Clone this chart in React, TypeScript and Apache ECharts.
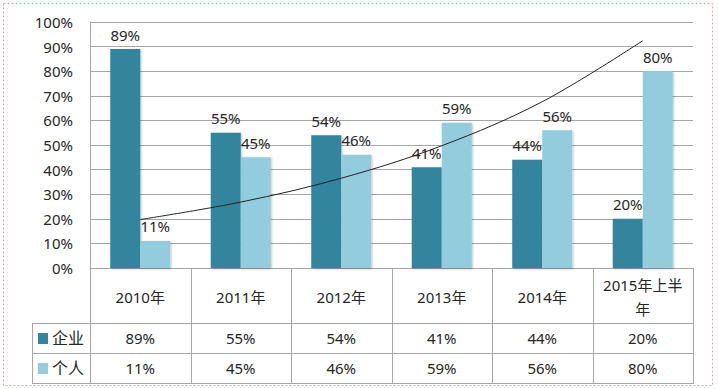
import React, { useEffect, useRef } from 'react';
import * as echarts from 'echarts';

const categories = ['2010年', '2011年', '2012年', '2013年', '2014年', '2015年上半年'];
const seriesNames = ['企业', '个人'];
const enterprise = [89, 55, 54, 41, 44, 20];
const personal = [11, 45, 46, 59, 56, 80];
// exponential trendline of 个人 at each category
const trendValues = [19.7, 26.8, 36.5, 49.7, 67.6, 92.4];

const COLORS = ['#31859C', '#93CDDD'];
const GRID_COLOR = '#A6A6A6';
const TEXT_COLOR = '#262626';
const FONT = '"Noto Sans", "Noto Sans CJK SC", sans-serif';

const wrapLabel = (s: string) => (s.length > 7 ? s.slice(0, 7) + '\n' + s.slice(7) : s);

export default function App() {
  const ref = useRef<HTMLDivElement>(null);

  useEffect(() => {
    if (!ref.current) return;
    const chart = echarts.init(ref.current, undefined, { renderer: 'svg' });
    const labelOpt = {
      show: true,
      position: 'top' as const,
      distance: 7,
      formatter: '{c}%',
      fontSize: 15,
      color: TEXT_COLOR,
      fontFamily: FONT,
    };
    chart.setOption({
      animation: false,
      textStyle: { fontFamily: FONT },
      grid: { left: 90, right: 25, top: 22, bottom: 121 },
      xAxis: {
        type: 'category',
        data: categories,
        axisLabel: { show: false },
        axisTick: { show: false },
        axisLine: { lineStyle: { color: GRID_COLOR, width: 1 } },
      },
      yAxis: {
        type: 'value',
        min: 0,
        max: 100,
        interval: 10,
        axisLabel: { formatter: '{value}%', fontSize: 15, color: TEXT_COLOR, margin: 17, fontFamily: FONT },
        axisLine: { show: true, lineStyle: { color: GRID_COLOR, width: 1 } },
        axisTick: { show: false },
        splitLine: { lineStyle: { color: GRID_COLOR, width: 1 } },
      },
      series: [
        {
          name: seriesNames[0],
          type: 'bar',
          data: enterprise,
          barWidth: 30,
          barGap: '0%',
          itemStyle: { color: COLORS[0], shadowBlur: 2, shadowColor: 'rgba(0,0,0,0.25)', shadowOffsetX: 1, shadowOffsetY: 1 },
          label: labelOpt,
        },
        {
          name: seriesNames[1],
          type: 'bar',
          data: personal,
          barWidth: 30,
          barGap: '0%',
          itemStyle: { color: COLORS[1], shadowBlur: 2, shadowColor: 'rgba(0,0,0,0.25)', shadowOffsetX: 1, shadowOffsetY: 1 },
          label: labelOpt,
        },
        {
          name: 'trend',
          type: 'line',
          data: trendValues,
          smooth: 0.35,
          showSymbol: false,
          symbol: 'none',
          silent: true,
          z: 5,
          lineStyle: { color: '#222222', width: 1 },
        },
      ],
    });

    // data table below the plot
    const c0 = chart.convertToPixel({ xAxisIndex: 0 }, 0) as number;
    const c1 = chart.convertToPixel({ xAxisIndex: 0 }, 1) as number;
    const band = c1 - c0;
    const yBase = Math.round(chart.convertToPixel({ yAxisIndex: 0 }, 0) as number);
    const headerH = 55;
    const rowH = 30;
    const legendLeft = 32;
    const y1 = yBase + headerH;
    const y2 = y1 + rowH;
    const y3 = y2 + rowH;
    const rightX = Math.round(c0 + band * (categories.length - 0.5));
    const p = (v: number) => Math.round(v) + 0.5;
    const lineStyle = { stroke: GRID_COLOR, lineWidth: 1 };
    const els: any[] = [];
    // horizontal lines
    [y1, y2, y3].forEach((y) =>
      els.push({ type: 'line', shape: { x1: legendLeft, y1: p(y), x2: rightX + 1, y2: p(y) }, style: lineStyle })
    );
    // vertical lines
    els.push({ type: 'line', shape: { x1: p(legendLeft), y1: y1, x2: p(legendLeft), y2: y3 + 1 }, style: lineStyle });
    for (let i = 0; i <= categories.length; i++) {
      const x = p(c0 + band * (i - 0.5));
      els.push({ type: 'line', shape: { x1: x, y1: yBase, x2: x, y2: y3 + 1 }, style: lineStyle });
    }
    const textStyle = (x: number, y: number, text: string, size = 15) => ({
      type: 'text',
      x,
      y,
      style: {
        text,
        fontSize: size,
        fontFamily: FONT,
        fill: TEXT_COLOR,
        align: 'center',
        verticalAlign: 'middle',
        lineHeight: 24,
      },
    });
    categories.forEach((cat, i) => {
      const cx = c0 + band * i;
      els.push(textStyle(cx, yBase + headerH / 2 + 1, wrapLabel(cat)));
      els.push(textStyle(cx, y1 + rowH / 2, enterprise[i] + '%'));
      els.push(textStyle(cx, y2 + rowH / 2, personal[i] + '%'));
    });
    // legend keys in the table
    [y1, y2].forEach((y, k) => {
      els.push({ type: 'rect', shape: { x: legendLeft + 6, y: y + rowH / 2 - 5, width: 10, height: 11 }, style: { fill: COLORS[k] } });
      els.push({
        type: 'text',
        x: legendLeft + 20,
        y: y + rowH / 2,
        style: { text: seriesNames[k], fontSize: 16, fontFamily: FONT, fill: TEXT_COLOR, align: 'left', verticalAlign: 'middle' },
      });
    });
    // outer dotted border
    els.push({
      type: 'rect',
      shape: { x: 3.5, y: 3.5, width: 709, height: 382 },
      style: { fill: 'none', stroke: '#E8A0A0', lineWidth: 1, lineDash: [2, 2] },
      z: -1,
    });
    chart.setOption({ graphic: { elements: els } });

    return () => chart.dispose();
  }, []);

  return <div ref={ref} style={{ position: 'fixed', left: 0, top: 0, width: 718, height: 389, background: '#fff' }} />;
}
